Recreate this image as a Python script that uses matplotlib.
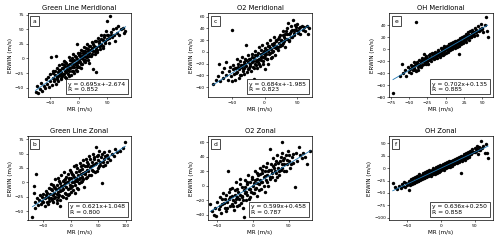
import numpy as np
import matplotlib
matplotlib.use("Agg")
import matplotlib.pyplot as plt
from matplotlib.offsetbox import AnchoredText
from matplotlib.ticker import MultipleLocator

# panel order: a, b, c, d, e, f
titles = ["Green Line Meridional", "Green Line Zonal", "O2 Meridional",
          "O2 Zonal", "OH Meridional", "OH Zonal"]
letters = ["a", "b", "c", "d", "e", "f"]
slopes = [0.695, 0.621, 0.684, 0.599, 0.702, 0.636]
intercepts = [-2.674, 1.048, -1.985, 0.458, 0.135, 0.250]
r_values = [0.852, 0.800, 0.823, 0.787, 0.885, 0.858]

# (MR, ERWIN) pairs
green_mer = [
    (-75, -58), (-73, -48), (-70, -60), (-68, -52), (-66, -42), (-63, -55), (-61, -47), (-58, -50),
    (-57, -36), (-55, -43), (-53, -31), (-52, -49), (-50, -38), (-49, -27), (-48, 2), (-47, -45),
    (-45, -33), (-44, -21), (-42, -39), (-41, -29), (-40, -43), (-40, 5), (-38, -16), (-37, -32),
    (-36, -24), (-35, -38), (-34, -12), (-33, -28), (-32, -19), (-31, -34), (-30, -23), (-29, -9),
    (-28, -30), (-27, -17), (-26, -4), (-25, -26), (-24, -13), (-23, -21), (-22, -33), (-21, -7),
    (-20, -18), (-19, -27), (-18, -11), (-17, 2), (-16, -21), (-15, -9), (-14, -16), (-13, -28),
    (-12, -4), (-11, -14), (-10, 8), (-10, -21), (-9, -9), (-8, -2), (-7, -15), (-6, 4), (-5, -7),
    (-4, -19), (-3, 25), (-3, -1), (-2, -11), (-1, 10), (0, -4), (1, -14), (2, 5), (3, -6), (4, 14),
    (5, 1), (6, -9), (7, 9), (8, -1), (9, 19), (10, 4), (11, -6), (12, 12), (13, 2), (14, 24),
    (15, 8), (16, -2), (17, 16), (18, 10), (19, -8), (20, 21), (21, 5), (22, 14), (23, 28), (25, 12),
    (26, -18), (27, 22), (28, 7), (30, -24), (30, 17), (31, 30), (32, 11), (34, 35), (35, 21),
    (36, 27), (38, 16), (39, 40), (40, 25), (42, 32), (43, 18), (45, 36), (47, 27), (48, 47),
    (50, 65), (50, 33), (52, 41), (54, 26), (55, 72), (56, 46), (58, 36), (60, 51), (62, 40),
    (63, 30), (65, 53), (67, 44), (69, 56), (71, 41), (74, 50), (77, 53), (80, 44), (82, 47),
    (-45, -25), (-43, -35), (-41, -22), (-38, -36), (-36, -30), (-34, -20), (-32, -27), (-30, -36),
    (-29, -16), (-27, -27), (-26, -12), (-24, -32), (-23, -6), (-21, -24), (-19, -13), (-18, -20),
    (-17, -30), (-15, -2), (-14, -9), (-12, -22), (-11, 0), (-9, -15), (-8, -25), (-6, -10),
    (-5, 2), (-3, -14), (-2, -22), (-1, -6), (0, 6), (1, -2), (3, 10), (4, -10), (5, -16), (6, 4),
    (8, 12), (9, -4), (11, 9), (12, -2), (13, 18), (15, 2), (16, 13), (18, 4), (19, 22), (21, 14),
    (23, 7), (24, 18), (26, 25), (28, 13), (29, 30), (31, 20), (33, 14), (35, 30), (37, 22),
    (40, 33), (42, 22), (44, 40), (46, 30), (49, 40), (53, 35), (57, 40),
]
green_zon = [
    (-70, -60), (-68, -6), (-68, -18), (-66, -35), (-65, -45), (-63, 14), (-62, -28), (-60, -40),
    (-58, -30), (-57, -22), (-55, -38), (-53, -26), (-52, -33), (-50, -20), (-48, -42), (-47, -28),
    (-45, -15), (-44, -35), (-42, -25), (-40, -10), (-40, -32), (-38, -20), (-37, -3), (-36, -28),
    (-35, -14), (-33, -22), (-32, -35), (-31, -8), (-30, -18), (-29, 5), (-28, -25), (-27, -12),
    (-26, -30), (-25, -4), (-24, -17), (-23, 8), (-22, -22), (-21, -10), (-20, -42), (-20, -2),
    (-19, -15), (-18, 12), (-17, -7), (-16, -24), (-15, 2), (-14, -12), (-13, 18), (-12, -5),
    (-11, -18), (-10, 6), (-9, -9), (-8, -28), (-7, 0), (-6, 14), (-5, -12), (-4, 5), (-3, -20),
    (-2, 22), (-1, -4), (0, 8), (1, -8), (2, 15), (3, 0), (4, -14), (5, 10), (6, 28), (7, 3),
    (8, -5), (9, 18), (10, 6), (11, -10), (12, 25), (13, 12), (14, -2), (15, 20), (16, 8), (17, 33),
    (18, 14), (19, 0), (20, 24), (21, 10), (22, 38), (23, 17), (24, -8), (25, 28), (26, 15),
    (28, 40), (29, 22), (30, 10), (31, 32), (32, 20), (34, 45), (35, 26), (36, 12), (38, 36),
    (39, 22), (40, 50), (41, 30), (43, 40), (44, 18), (45, 62), (46, 34), (48, 45), (49, 25),
    (50, 38), (52, 55), (53, 30), (55, 44), (57, -2), (58, 36), (60, 52), (61, 40), (63, 30),
    (65, 48), (67, 42), (70, 55), (72, 38), (75, 50), (78, 45), (80, 58), (85, 52), (90, 55),
    (95, 60), (99, 70),
    (-50, -35), (-46, -22), (-43, -18), (-41, -38), (-39, -28), (-36, -12), (-34, -30), (-32, -4),
    (-30, -28), (-28, -10), (-26, -20), (-25, -36), (-23, -26), (-21, 2), (-19, -30), (-18, -6),
    (-16, -14), (-14, -25), (-13, 4), (-11, -2), (-9, -20), (-8, 10), (-6, -22), (-5, 0), (-3, 8),
    (-2, -10), (0, -16), (1, 18), (3, -6), (4, 12), (6, 0), (7, -18), (9, 8), (10, 30), (12, 2),
    (13, -12), (15, 6), (16, 22), (18, 28), (20, 2), (22, 6), (23, 30), (25, 18), (27, 8), (29, 35),
    (30, 28), (33, 12), (35, 40), (37, 28), (40, 20), (42, 44), (44, 32), (47, 20), (50, 48),
    (51, 28), (54, 36), (56, 50), (59, 28), (62, 46), (66, 36),
]
o2_mer = [
    (-80, -55), (-75, -48), (-72, -42), (-70, -20), (-68, -50), (-66, -35), (-64, -45), (-62, -28),
    (-60, -40), (-59, -18), (-57, -48), (-55, -33), (-54, -25), (-52, -42), (-50, 38), (-50, -50),
    (-49, -30), (-48, -22), (-47, -38), (-45, -48), (-44, -27), (-43, -12), (-42, -35), (-41, -20),
    (-40, -45), (-39, -30), (-38, -15), (-37, -25), (-36, -40), (-35, -8), (-34, -22), (-33, -32),
    (-32, -18), (-31, -27), (-30, -12), (-29, 12), (-28, -24), (-27, -35), (-26, -17), (-25, -5),
    (-24, -28), (-23, -20), (-22, -12), (-21, -32), (-20, -18), (-19, -3), (-18, -25), (-17, -10),
    (-16, -47), (-15, -20), (-14, 2), (-13, -15), (-12, -28), (-11, -6), (-10, -18), (-9, 8),
    (-8, -12), (-7, -24), (-6, -3), (-5, -14), (-4, 12), (-3, -8), (-2, -20), (-1, 2), (0, -30),
    (0, -10), (1, 6), (2, -4), (3, 15), (4, -12), (5, 2), (6, -20), (7, 10), (8, -2), (9, 20),
    (10, 5), (11, -8), (12, 14), (13, 2), (14, 25), (15, 8), (16, -5), (17, 18), (18, 10), (20, 22),
    (21, 3), (22, 15), (24, 28), (25, 12), (26, 20), (28, 35), (29, 16), (30, 25), (31, 8), (32, 30),
    (34, 40), (35, 22), (36, 50), (37, 30), (38, 18), (40, 35), (41, 45), (42, 25), (44, 55),
    (45, 38), (46, 28), (48, 42), (50, 48), (51, 33), (53, 40), (55, 30), (57, 45), (59, 38),
    (61, 42), (63, 35), (65, 45), (67, 30), (68, 40),
    (-46, -28), (-44, -36), (-41, -26), (-38, -40), (-36, -22), (-34, -30), (-32, -38), (-30, -20),
    (-28, -14), (-26, -30), (-24, -12), (-22, -24), (-20, -8), (-18, -16), (-16, -28), (-15, -6),
    (-13, -22), (-11, -14), (-10, -2), (-8, -20), (-6, -8), (-5, 4), (-3, -16), (-2, -2), (0, 0),
    (1, -6), (3, -12), (4, 4), (6, 10), (7, -4), (9, 6), (10, -10), (12, 0), (13, 12), (15, 16),
    (17, 6), (18, 20), (20, 8), (22, 25), (23, 10), (25, 20), (27, 12), (28, 28), (30, 18),
    (32, 22), (33, 35), (35, 30), (37, 20), (39, 32), (41, 26), (43, 38), (45, 32), (47, 46),
    (49, 38), (52, 36), (55, 42),
]
o2_zon = [
    (-60, -25), (-58, -35), (-55, -40), (-53, -30), (-52, -42), (-50, -22), (-48, -32), (-46, -15),
    (-45, -38), (-43, -25), (-42, -10), (-40, -30), (-39, -18), (-38, -35), (-36, -22), (-35, 20),
    (-34, -8), (-33, -28), (-32, -16), (-30, -25), (-29, -3), (-28, -20), (-27, -33), (-26, -12),
    (-25, -22), (-24, 5), (-23, -15), (-22, -28), (-21, -8), (-20, -18), (-19, 10), (-18, -12),
    (-17, -24), (-16, -2), (-15, -15), (-14, -30), (-13, -43), (-13, -6), (-12, 8), (-11, -10),
    (-10, -20), (-9, 2), (-8, -12), (-7, 15), (-6, -4), (-5, -16), (-4, 6), (-3, -8), (-2, -25),
    (-1, 12), (0, 0), (1, -10), (2, 8), (3, 20), (4, -3), (5, 10), (6, -14), (7, 15), (8, 2),
    (9, 25), (10, 8), (11, -5), (12, 18), (13, 5), (14, 28), (15, 12), (16, -8), (17, 20), (18, 8),
    (19, 32), (20, 15), (21, 0), (22, 22), (24, 51), (24, 12), (25, 30), (26, 18), (28, 38),
    (29, 25), (30, 8), (31, 30), (32, 18), (34, 42), (35, 25), (36, 15), (38, 35), (39, 22),
    (40, 60), (40, 45), (41, 30), (43, 38), (44, 20), (46, 42), (47, 30), (49, 48), (50, 35),
    (52, 25), (54, 40), (56, 32), (59, -2), (60, 45), (62, 35), (64, 54), (66, 42), (68, 38),
    (70, 45), (73, 40), (76, 30), (80, 48),
    (-46, -28), (-44, -18), (-41, -24), (-38, -12), (-36, -30), (-34, -18), (-32, -4), (-30, -14),
    (-28, -28), (-26, -6), (-24, -18), (-22, -4), (-20, -26), (-18, 2), (-16, -14), (-14, -20),
    (-12, -2), (-10, -8), (-8, 6), (-6, -18), (-4, -4), (-2, 10), (0, -10), (1, 4), (3, -4),
    (5, 18), (6, 4), (8, -6), (10, 16), (11, 6), (13, 22), (15, 0), (16, 14), (18, 26), (20, 6),
    (21, 20), (23, 10), (25, 22), (27, 12), (28, 28), (30, 20), (32, 34), (33, 12), (35, 32),
    (37, 20), (39, 40), (41, 24), (42, 36), (44, 30), (46, 20), (48, 36), (51, 42), (53, 30),
    (56, 44),
]
oh_mer = [
    (-72, -72), (-62, -45), (-60, -25), (-58, -40), (-56, -35), (-54, -44), (-52, -30), (-50, -38),
    (-49, -33), (-48, -26), (-47, -40), (-46, -30), (-45, -35), (-44, -22), (-43, -32), (-42, -27),
    (-40, 46), (-40, -36), (-39, -22), (-38, -30), (-37, -25), (-36, -18), (-35, -28), (-34, -22),
    (-33, -15), (-32, -26), (-31, -20), (-30, -8), (-30, -24), (-29, -17), (-28, -22), (-27, -12),
    (-26, -20), (-25, -15), (-24, -24), (-23, -10), (-22, -17), (-21, -13), (-20, -20), (-19, -6),
    (-18, -14), (-17, -10), (-16, -17), (-15, -4), (-14, -12), (-13, -8), (-12, -15), (-11, -2),
    (-10, -9), (-9, -5), (-8, -13), (-7, 2), (-6, -6), (-5, -2), (-4, -10), (-3, 5), (-2, -3),
    (-1, 1), (0, -7), (1, 6), (2, 0), (3, -4), (4, 8), (5, 3), (6, -2), (7, 10), (8, 5), (9, 0),
    (10, 12), (11, 6), (12, 2), (13, 14), (14, 9), (15, 4), (16, 16), (17, 10), (18, -8), (18, 6),
    (19, 18), (20, 12), (21, 8), (22, 20), (23, 14), (24, 10), (25, 22), (26, 16), (27, 12),
    (28, 25), (29, 18), (30, 28), (31, 20), (32, 15), (33, 30), (34, 24), (35, 20), (36, 32),
    (37, 26), (38, 22), (40, 35), (41, 28), (42, 24), (44, 38), (45, 30), (47, 34), (48, 42),
    (50, 36), (51, 28), (53, 40), (55, 53), (56, 30), (57, 20),
    (-45, -28), (-42, -35), (-40, -24), (-38, -34), (-36, -26), (-34, -30), (-32, -18), (-30, -18),
    (-28, -14), (-27, -24), (-25, -20), (-23, -18), (-21, -8), (-20, -14), (-18, -10), (-16, -6),
    (-15, -14), (-13, -12), (-11, -10), (-10, -4), (-8, -6), (-7, -10), (-5, -6), (-4, 2), (-2, -8),
    (-1, 4), (1, -2), (2, 4), (4, -2), (5, 8), (7, 2), (8, 8), (10, 4), (11, 10), (13, 6), (14, 13),
    (16, 8), (17, 14), (19, 10), (20, 16), (22, 12), (23, 19), (25, 16), (26, 20), (28, 17),
    (29, 23), (31, 24), (32, 21), (34, 20), (36, 27), (38, 28), (39, 24), (41, 32), (43, 30),
    (46, 32), (49, 34),
]
oh_zon = [
    (-72, -30), (-68, -38), (-65, -42), (-62, -35), (-60, -40), (-58, -32), (-56, -36), (-55, -28),
    (-53, -38), (-52, -30), (-50, -34), (-48, -45), (-48, -26), (-47, -30), (-45, -22), (-44, -32),
    (-43, -26), (-42, -20), (-41, -30), (-40, -25), (-39, -18), (-38, -28), (-37, -22), (-36, -15),
    (-35, -25), (-34, -20), (-33, -12), (-32, -24), (-31, -18), (-30, -22), (-29, -14), (-28, -19),
    (-27, -10), (-26, -20), (-25, -15), (-24, -8), (-23, -17), (-22, -12), (-21, -5), (-20, -16),
    (-19, -10), (-18, -3), (-17, -13), (-16, -8), (-15, -15), (-14, -4), (-13, -10), (-12, 0),
    (-11, -8), (-10, -3), (-9, -12), (-8, 2), (-7, -5), (-6, -9), (-5, 4), (-4, -2), (-3, -7),
    (-2, 6), (-1, 0), (0, -4), (1, 5), (2, -1), (3, 8), (4, 2), (5, -3), (6, 10), (7, 4), (8, 0),
    (9, 12), (10, 6), (11, 2), (12, 14), (13, 8), (14, 3), (15, 15), (16, 10), (17, 5), (18, 17),
    (19, 12), (20, 8), (21, 18), (22, 14), (23, 10), (24, 20), (25, 15), (26, 12), (27, 22),
    (28, 17), (29, 25), (30, -10), (30, 19), (31, 14), (32, 24), (33, 20), (34, 28), (35, 22),
    (36, 17), (37, 30), (38, 25), (40, 32), (41, 26), (42, 22), (43, 35), (45, 28), (46, 38),
    (48, 32), (50, 40), (52, 34), (54, 45), (55, 28), (57, 42), (58, 36), (60, 55), (61, 40),
    (63, 45), (65, 30), (67, 48), (68, 30), (70, 20),
    (-46, -33), (-44, -27), (-42, -26), (-40, -30), (-38, -22), (-36, -25), (-34, -26), (-32, -18),
    (-30, -16), (-29, -22), (-27, -16), (-25, -20), (-24, -13), (-22, -17), (-21, -10), (-19, -15),
    (-18, -8), (-16, -13), (-15, -6), (-13, -5), (-12, -12), (-10, -8), (-9, -2), (-7, -8), (-6, 0),
    (-4, -6), (-3, 2), (-1, -5), (0, 4), (2, 3), (3, -2), (5, 6), (6, 2), (8, 7), (9, 3), (11, 9),
    (12, 5), (14, 11), (15, 7), (17, 12), (18, 9), (20, 14), (21, 11), (23, 16), (25, 18), (26, 17),
    (28, 20), (30, 16), (32, 19), (34, 23), (36, 24), (38, 20), (40, 27), (42, 28), (44, 30),
    (47, 33), (50, 33), (53, 38), (56, 36),
]
datasets = [green_mer, green_zon, o2_mer, o2_zon, oh_mer, oh_zon]

# axis limits and tick steps per panel
xlims = [(-89, 91), (-79, 109), (-86.5, 72.4), (-62.7, 82), (-77, 63.7), (-77, 76.6)]
ylims = [(-66.6, 77), (-65.6, 80.2), (-77.6, 65.5), (-47.3, 68.7), (-80, 59.5), (-104.7, 64.8)]
xsteps = [50, 50, 50, 50, 25, 50]
ysteps = [25, 25, 20, 20, 20, 25]

fig, axes = plt.subplots(2, 3, figsize=(5, 2.41), dpi=100)
fig.subplots_adjust(left=0.055, right=0.985, top=0.944, bottom=0.087,
                    wspace=0.754, hspace=0.463)

for i in range(6):
    ax = axes[i % 2, i // 2]
    pts = np.array(datasets[i], dtype=float)
    x, y = pts[:, 0], pts[:, 1]
    ax.scatter(x, y, s=6, c="black", marker="o", linewidths=0)
    xl = np.array([x.min(), x.max()])
    ax.plot(xl, slopes[i] * xl + intercepts[i], color="#1f77b4", lw=0.6)

    ax.set_xlim(xlims[i])
    ax.set_ylim(ylims[i])
    ax.xaxis.set_major_locator(MultipleLocator(xsteps[i]))
    ax.yaxis.set_major_locator(MultipleLocator(ysteps[i]))
    ax.tick_params(labelsize=3.2, length=1.5, width=0.4, pad=1)
    for sp in ax.spines.values():
        sp.set_linewidth(0.5)

    ax.set_title(titles[i], fontsize=4.85, pad=2.5)
    ax.set_xlabel("MR (m/s)", fontsize=4.1, labelpad=1.5)
    ax.set_ylabel("ERWIN (m/s)", fontsize=4.1, labelpad=1.5)

    lab = AnchoredText(letters[i], loc="upper left", prop=dict(size=4.3))
    lab.patch.set_linewidth(0.5)
    ax.add_artist(lab)

    txt = "y = {:.3f}x+{:.3f}\nR = {:.3f}".format(slopes[i], intercepts[i], r_values[i])
    box = AnchoredText(txt, loc="lower right", prop=dict(size=4.3, linespacing=1.1))
    box.patch.set_linewidth(0.5)
    ax.add_artist(box)

fig.savefig("out.png", dpi=100)
